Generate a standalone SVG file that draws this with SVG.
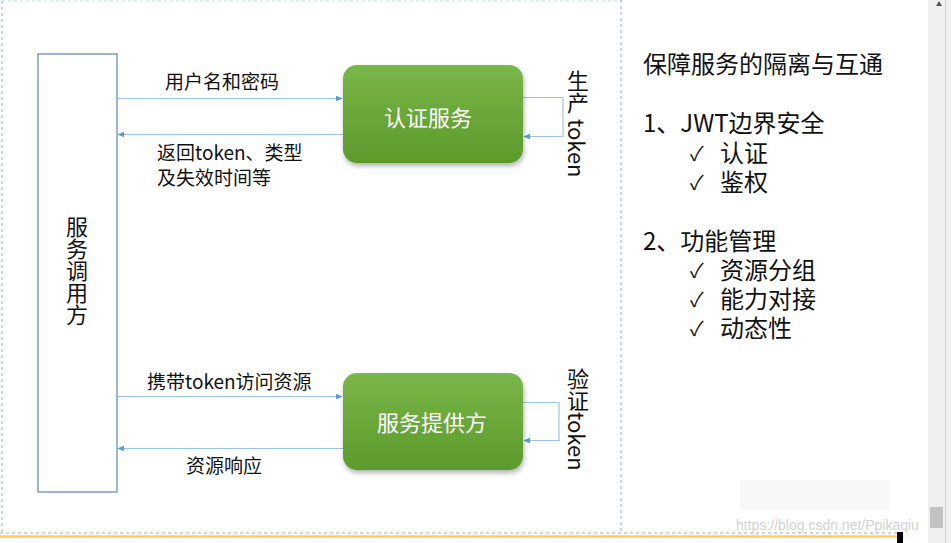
<svg xmlns="http://www.w3.org/2000/svg" width="951" height="543" viewBox="0 0 951 543">
<defs>
<style>
.t{font-family:"Microsoft YaHei","Noto Sans CJK SC","Liberation Sans",sans-serif;fill:#111}
.lbl{font-size:19px}
.w{fill:#fff;font-size:22px;text-anchor:middle}
.r{font-size:24px}
.ck{font-size:20px}
.ln{stroke:#9dc3e6;stroke-width:1.2;fill:none}
.v{font-size:22px;writing-mode:vertical-rl}
</style>
<linearGradient id="g" x1="0" y1="0" x2="0" y2="1">
<stop offset="0" stop-color="#7ab648"/>
<stop offset="1" stop-color="#5c9a2c"/>
</linearGradient>
<filter id="sh" x="-10%" y="-10%" width="130%" height="140%">
<feDropShadow dx="1" dy="3" stdDeviation="2.5" flood-color="#000" flood-opacity="0.3"/>
</filter>
<marker id="a" viewBox="0 0 10 10" refX="9" refY="5" markerWidth="7" markerHeight="7" orient="auto-start-reverse" markerUnits="userSpaceOnUse">
<path d="M0,1 L10,5 L0,9 z" fill="#5b9bd5"/>
</marker>
</defs>
<rect width="951" height="543" fill="#fff"/>
<!-- frame -->
<g id="frame" fill="none" stroke="#8fb0cc" stroke-width="1" stroke-dasharray="3,3">
<line x1="2" y1="1" x2="2" y2="533"/>
<line x1="2" y1="1" x2="621" y2="1" stroke-opacity="0.5"/>
<line x1="621" y1="0" x2="621" y2="533"/>
<line x1="0" y1="533" x2="898" y2="533"/>
</g>
<line x1="0" y1="536.5" x2="898" y2="536.5" stroke="#ffd04f" stroke-width="2.5"/>
<rect x="897" y="532" width="6" height="11" fill="#000"/>
<!-- scrollbar -->
<rect x="928" y="0" width="23" height="543" fill="#f0f0f0"/>
<line x1="945.5" y1="0" x2="945.5" y2="543" stroke="#d0d0d0"/>
<rect x="930" y="507" width="13" height="21" fill="#c2c2c2"/>
<path d="M936,6 L939,1 L942,6 z" fill="#555"/>

<!-- connectors -->
<g id="connectors">
<line class="ln" x1="117" y1="98.5" x2="342" y2="98.5" marker-end="url(#a)"/>
<line class="ln" x1="343" y1="134.5" x2="118" y2="134.5" marker-end="url(#a)"/>
<polyline class="ln" points="523,97.5 563,97.5 563,136.5 524,136.5" marker-end="url(#a)"/>
<line class="ln" x1="117" y1="396.5" x2="342" y2="396.5" marker-end="url(#a)"/>
<line class="ln" x1="343" y1="448.5" x2="118" y2="448.5" marker-end="url(#a)"/>
<polyline class="ln" points="523,402.5 559,402.5 559,440.5 524,440.5" marker-end="url(#a)"/>
<text class="t lbl" x="165" y="89">用户名和密码</text>
<text class="t lbl" x="157" y="160">返回token、类型</text>
<text class="t lbl" x="157" y="185">及失效时间等</text>
<text class="t lbl" x="147" y="389">携带token访问资源</text>
<text class="t lbl" x="186" y="473">资源响应</text>
<text class="t v" x="578" y="70">生产 token</text>
<text class="t v" x="578" y="368">验证token</text>
</g>

<!-- nodes -->
<g id="caller">
<rect x="38" y="54" width="79" height="438" fill="#fff" stroke="#7f9cc0" stroke-width="1.5"/>
<text class="t v" x="77" y="216">服务调用方</text>
</g>
<g id="auth">
<rect x="343" y="65" width="180" height="98" rx="14" fill="url(#g)" filter="url(#sh)"/>
<text class="t w" x="428" y="126">认证服务</text>
</g>
<g id="provider">
<rect x="343" y="373" width="180" height="97" rx="14" fill="url(#g)" filter="url(#sh)"/>
<text class="t w" x="432" y="431">服务提供方</text>
</g>

<!-- right text -->
<g id="notes" class="t">
<text class="r" x="643" y="73">保障服务的隔离与互通</text>
<text class="r" x="643" y="132">1、JWT边界安全</text>
<text class="ck" x="690" y="161">✓</text>
<text class="r" x="720" y="162">认证</text>
<text class="ck" x="690" y="190">✓</text>
<text class="r" x="720" y="191">鉴权</text>
<text class="r" x="643" y="250">2、功能管理</text>
<text class="ck" x="690" y="278">✓</text>
<text class="r" x="720" y="279">资源分组</text>
<text class="ck" x="690" y="307">✓</text>
<text class="r" x="720" y="308">能力对接</text>
<text class="ck" x="690" y="336">✓</text>
<text class="r" x="720" y="337">动态性</text>
</g>

<!-- watermark -->
<g id="watermark">
<rect x="740" y="480" width="150" height="30" fill="#f4f4f4" opacity="0.6"/>
<text x="736" y="530" font-family="Liberation Sans,sans-serif" font-size="14" fill="#d2d2d2">https://blog.csdn.net/Ppikaqiu</text>
</g>
</svg>
